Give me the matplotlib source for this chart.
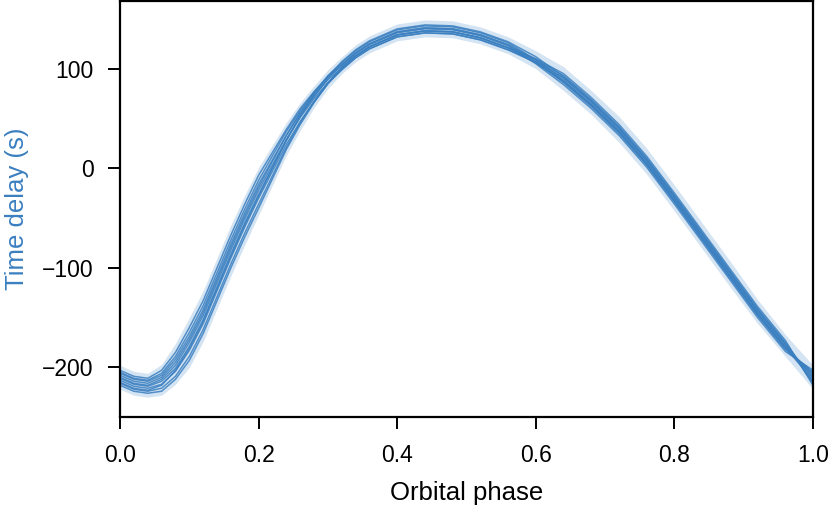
import matplotlib
matplotlib.use("Agg")
import matplotlib.pyplot as plt

plt.rcParams['font.family'] = ['Liberation Sans', 'DejaVu Sans']

# orbital phase grid the curves were read at
phase = [0.00, 0.02, 0.04, 0.06, 0.08, 0.10, 0.12, 0.14, 0.16, 0.18, 0.20,
         0.24, 0.26, 0.28, 0.30, 0.32, 0.34, 0.36, 0.40, 0.44, 0.48, 0.52, 0.56, 0.60,
         0.64, 0.68, 0.72, 0.76, 0.80, 0.84, 0.88, 0.92, 0.96, 1.00]

# time delay curves (s), one per posterior sample
delay_1 = [-205, -211, -213, -206, -189, -165, -138, -105, -72, -41, -12,
           37, 58, 76, 92, 104, 116, 125, 137, 141, 140, 134, 124, 107,
           86, 62, 35, 3, -34, -72, -110, -148, -182, -205]
delay_2 = [-216, -222, -224, -221, -209, -189, -162, -129, -96, -65, -36,
           21, 46, 67, 86, 101, 113, 122, 134, 138, 137, 131, 121, 109,
           93, 69, 42, 10, -27, -65, -103, -141, -175, -216]
delay_3 = [-208, -214, -216, -210, -195, -172, -145, -112, -79, -48, -19,
           33, 56, 76, 93, 106, 118, 127, 139, 143, 142, 136, 126, 109,
           88, 64, 37, 5, -32, -70, -108, -146, -180, -208]
delay_4 = [-213, -219, -221, -217, -204, -183, -156, -123, -90, -59, -30,
           24, 47, 67, 85, 99, 111, 120, 132, 136, 135, 129, 119, 106,
           88, 64, 37, 5, -32, -70, -108, -146, -180, -213]
delay_5 = [-203, -209, -211, -203, -185, -160, -133, -100, -67, -36, -7,
           39, 60, 77, 92, 103, 115, 124, 136, 140, 139, 133, 123, 105,
           84, 60, 33, 1, -36, -74, -112, -150, -184, -203]
delay_6 = [-218, -224, -226, -224, -212, -193, -166, -133, -100, -69, -40,
           19, 44, 66, 85, 101, 113, 122, 134, 138, 137, 131, 121, 110,
           95, 71, 44, 12, -25, -63, -101, -139, -173, -218]
delay_7 = [-211, -217, -219, -214, -201, -179, -152, -119, -86, -55, -26,
           28, 52, 72, 90, 104, 116, 125, 137, 141, 140, 134, 124, 109,
           90, 66, 39, 7, -30, -68, -106, -144, -178, -211]
delay_8 = [-206, -212, -214, -208, -192, -169, -142, -109, -76, -45, -16,
           33, 55, 73, 89, 101, 113, 122, 134, 138, 137, 131, 121, 106,
           87, 63, 36, 4, -33, -71, -109, -147, -181, -206]
delay_9 = [-215, -221, -223, -218, -203, -181, -154, -121, -88, -57, -28,
           28, 53, 74, 92, 107, 119, 128, 140, 144, 143, 137, 127, 112,
           92, 68, 41, 9, -28, -66, -104, -142, -176, -215]
delay_10 = [-210, -216, -218, -212, -198, -175, -148, -115, -82, -51, -22,
            29, 51, 70, 86, 99, 111, 120, 132, 136, 135, 129, 119, 107,
            91, 67, 40, 8, -29, -67, -105, -143, -177, -210]

# light envelope behind the curves
band_lo = [-222, -228, -230, -228, -217, -200, -174, -141, -108, -77, -47,
           13, 38, 61, 80, 95, 107, 116, 128, 132, 131, 125, 115, 100,
           78, 54, 26, -6, -43, -81, -119, -156, -189, -222]
band_hi = [-198, -204, -206, -197, -176, -150, -123, -90, -57, -27, 1,
           46, 66, 83, 99, 112, 124, 133, 145, 149, 148, 142, 132, 118,
           102, 78, 52, 20, -17, -55, -93, -132, -167, -198]

curves = [delay_1, delay_2, delay_3, delay_4, delay_5,
          delay_6, delay_7, delay_8, delay_9, delay_10]

blue = '#3a7fc0'

fig = plt.figure(figsize=(8.3, 5.05), dpi=100)
ax = fig.add_axes([0.1446, 0.174, 0.835, 0.824])

ax.fill_between(phase, band_lo, band_hi, color='#c6dbef', alpha=0.75, lw=0)
for c in curves:
    ax.plot(phase, c, color=blue, lw=1.1, alpha=0.85)

ax.set_xlim(0, 1)
ax.set_ylim(-250, 168)
ax.set_xticks([0.0, 0.2, 0.4, 0.6, 0.8, 1.0])
ax.set_yticks([-200, -100, 0, 100])

ax.set_xlabel('Orbital phase', fontsize=18.5, labelpad=10)
ax.set_ylabel('Time delay (s)', fontsize=18.5, color=blue, labelpad=9)
ax.tick_params(labelsize=16.5, length=8.6, width=1.4, pad=10.5)
for s in ax.spines.values():
    s.set_linewidth(1.6)

fig.savefig('out.png', dpi=100)
